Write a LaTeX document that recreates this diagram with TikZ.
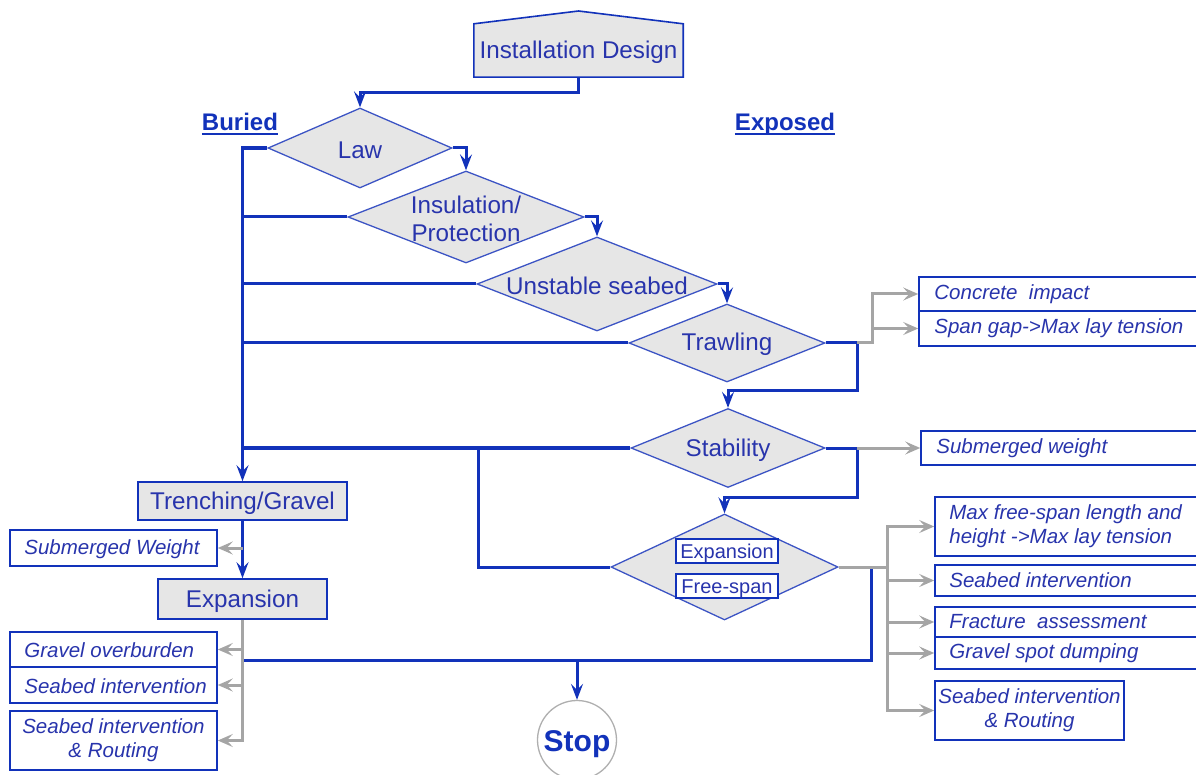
\documentclass[tikz,border=0pt]{standalone}
\usepackage{fontspec}
\setmainfont{Liberation Sans}
\usetikzlibrary{shapes.geometric,arrows.meta,backgrounds,calc}
\definecolor{lblue}{RGB}{18,50,186}
\definecolor{dblue}{RGB}{60,84,196}
\definecolor{tblue}{RGB}{40,52,172}
\definecolor{lfill}{RGB}{230,230,230}
\definecolor{lgray}{RGB}{165,165,165}
\definecolor{cgray}{RGB}{175,175,175}
\newcommand{\myul}[1]{\setbox0=\hbox{#1}\rlap{\rule[-5pt]{\wd0}{2.2pt}}\box0}
\begin{document}
\begin{tikzpicture}[x=1pt,y=-1pt,
 bl/.style={draw=lblue, line width=3pt},
 blt/.style={bl, -{Stealth[length=16pt,width=12pt,inset=6pt]}},
 gr/.style={draw=lgray, line width=3pt},
 grt/.style={gr, -{Stealth[length=15pt,width=13pt,inset=6pt]}},
 dia/.style 2 args={diamond, draw=dblue, line width=1.3pt, fill=lfill, minimum width=#1pt, minimum height=#2pt, inner sep=0pt},
 mtxt/.style={text=tblue, font=\fontsize{24.2}{28.5}\selectfont, inner sep=0pt, align=center},
 itxt/.style={text=tblue, font=\fontsize{20.5}{24}\selectfont\itshape, inner sep=0pt},
 htxt/.style={text=lblue, font=\fontsize{24}{28}\selectfont\bfseries, inner sep=0pt},
 pbox/.style 2 args={rectangle, draw=lblue, line width=1.6pt, fill=lfill, minimum width=#1pt, minimum height=#2pt, mtxt, text height=21pt, text depth=5pt},
 ibox/.style 2 args={rectangle, draw=lblue, line width=1.6pt, fill=white, minimum width=#1pt, minimum height=#2pt, inner sep=0pt},
]
\useasboundingbox (0,0) rectangle (1196,775);

% top
\node[mtxt, minimum width=209pt, minimum height=53pt, text height=21pt, text depth=5pt] (inst) at (578.5,50.5) {Installation Design};
\begin{scope}[on background layer]
\filldraw[fill=lfill, draw=lblue, line width=1.6pt] (inst.south west) -- (inst.north west) -- (578.5,11) -- (inst.north east) -- (inst.south east) -- cycle;
\end{scope}

\node[htxt] (bur) at (240,124) {\myul{Buried}};
\node[htxt] (expo) at (785,124) {\myul{Exposed}};

% diamonds
\node[dia={184}{80}] (law) at (360,148) {};
\node[mtxt] (lawt) at (360,150) {Law};
\node[dia={236}{92}] (ins) at (466,217) {};
\node[mtxt] (inst2) at (466,219) {Insulation/\\Protection};
\node[dia={240}{94}] (uns) at (597,284) {};
\node[mtxt] (unst) at (597,286) {Unstable seabed};
\node[dia={196}{78}] (trw) at (727,343) {};
\node[mtxt] (trwt) at (727,344) {Trawling};
\node[dia={194}{79}] (stb) at (728,448) {};
\node[mtxt] (stbt) at (728,450) {Stability};
\node[dia={227}{106}] (exf) at (724.5,567) {};
\node[ibox={102}{24}, mtxt, font=\fontsize{20}{24}\selectfont, text height=18pt, text depth=4pt] (exb) at (727,551) {Expansion};
\node[ibox={102}{24}, mtxt, font=\fontsize{20}{24}\selectfont, text height=18pt, text depth=4pt] (fsb) at (727,586) {Free-span};

% left column
\node[pbox={209}{38}] (tr) at (242.5,501) {Trenching/Gravel};
\node[pbox={169}{40}] (ex) at (242.5,599) {Expansion};
\node[ibox={207}{36}] (sw) at (113.5,548) {};
\node[itxt, anchor=west] (swt) at ([xshift=15pt,yshift=-1pt]sw.west) {Submerged Weight};
\node[ibox={207}{35}] (go) at (113.5,649.5) {};
\node[itxt, anchor=west] (got) at ([xshift=15pt,yshift=-1pt]go.west) {Gravel overburden};
\node[ibox={207}{36}] (si) at (113.5,685) {};
\node[itxt, anchor=west] (sit) at ([xshift=15pt,yshift=-1pt]si.west) {Seabed intervention};
\node[ibox={207}{59}, itxt, align=center] (sr) at (113.5,740.5) {Seabed intervention\\\& Routing};

% right column
\node[ibox={286}{34}] (ci) at (1062,294) {};
\node[itxt, anchor=west] (cit) at ([xshift=16pt]ci.west) {Concrete~~impact};
\node[ibox={286}{35}] (sg) at (1062,328.5) {};
\node[itxt, anchor=west] (sgt) at ([xshift=16pt]sg.west) {Span gap->Max lay tension};
\node[ibox={284}{34}] (sw2) at (1063,448) {};
\node[itxt, anchor=west] (sw2t) at ([xshift=16pt]sw2.west) {Submerged weight};
\node[ibox={270}{59}] (b1) at (1070,526.5) {};
\node[itxt, anchor=west, align=left] (b1t) at ([xshift=15pt]b1.west) {Max free-span length and\\height ->Max lay tension};
\node[ibox={270}{31}] (b2) at (1070,580.5) {};
\node[itxt, anchor=west] (b2t) at ([xshift=15pt]b2.west) {Seabed intervention};
\node[ibox={270}{30}] (b3) at (1070,622) {};
\node[itxt, anchor=west] (b3t) at ([xshift=15pt]b3.west) {Fracture~~assessment};
\node[ibox={270}{32}] (b4) at (1070,653) {};
\node[itxt, anchor=west] (b4t) at ([xshift=15pt]b4.west) {Gravel spot dumping};
\node[ibox={189}{59}, itxt, align=center] (b5) at (1029.5,710.5) {Seabed intervention\\\& Routing};

% stop
\node[circle, draw=cgray, line width=1.3pt, fill=white, minimum size=79pt, inner sep=0pt, text=lblue, font=\fontsize{30}{34}\selectfont\bfseries, text height=28pt, text depth=6pt] (stop) at (577,740) {Stop};

% main blue flow
\draw[blt] (inst.south) -- ++(0,15) -| (law.north);
\draw[blt] (law.east) -| (ins.north);
\draw[blt] (ins.east) -| (uns.north);
\draw[blt] (uns.east) -| (trw.north);
\coordinate (tj) at (857,343);
\draw[blt] (trw.east) -- (tj) |- ([yshift=17pt]stb.north) -- (stb.north);
\coordinate (sj) at (857,448);
\draw[blt] (stb.east) -- (sj) |- ([yshift=16pt]exf.north) -- (exf.north);

% buried side
\draw[blt, line width=3.5pt] (law.west) -| (tr.north);
\draw[bl] (ins.west) -- (ins.west -| tr.north);
\draw[bl] (uns.west) -- (uns.west -| tr.north);
\draw[bl] (trw.west) -- (trw.west -| tr.north);
\draw[bl, line width=4.5pt] (stb.west) -- (stb.west -| tr.north);
\coordinate (sx) at (478,448);
\draw[bl] (exf.west) -| (sx);
\draw[blt] (tr.south) -- (ex.north);
\coordinate (r1) at (871,567);
\coordinate (l1) at (243,660);
\draw[bl] (r1) |- (l1);
\draw[blt] (stop.north |- l1) -- (stop.north);

% gray left
\draw[grt] (sw.east -| tr.south) -- (sw.east);
\draw[grt] (ex.south) |- (sr.east);
\draw[grt] (go.east -| ex.south) -- (go.east);
\draw[grt] (si.east -| ex.south) -- (si.east);

% gray right
\coordinate (tg) at (872,343);
\draw[grt] (tj) -- (tg) |- (ci.west);
\draw[grt] (tg |- sg.west) -- (sg.west);
\draw[grt] (sj) -- (sw2.west);
\coordinate (eg) at (887,567);
\draw[gr] (exf.east) -- (eg);
\draw[grt] (eg) |- (b1.west);
\draw[grt] (eg) |- (b5.west);
\draw[grt] (eg |- b2.west) -- (b2.west);
\draw[grt] (eg |- b3.west) -- (b3.west);
\draw[grt] (eg |- b4.west) -- (b4.west);
\end{tikzpicture}
\end{document}
